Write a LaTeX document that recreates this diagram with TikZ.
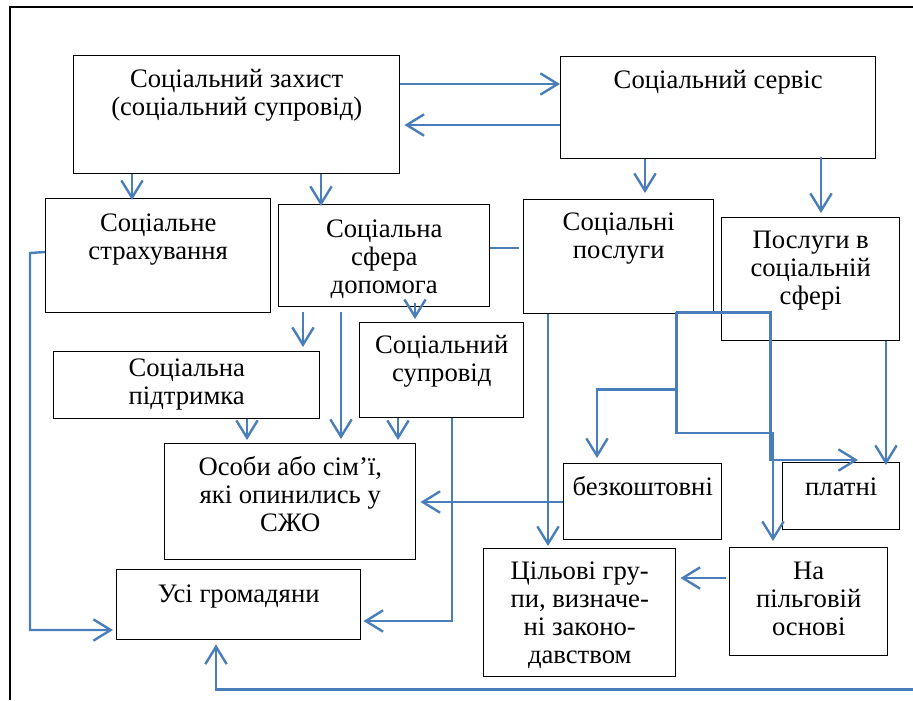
\documentclass[tikz,border=0pt]{standalone}
\usepackage{fontspec}
\setmainfont{Liberation Serif}
\usetikzlibrary{arrows.meta,calc}
\newlength\pxu
\setlength\pxu{0.75pt}
\newcommand{\bx}[4]{\parbox[c][#2\pxu][t]{#1\pxu}{\fontsize{20}{21}\selectfont\centering\rule{0pt}{#3\pxu}#4}}
\definecolor{lnblue}{RGB}{74,126,187}
\tikzset{
  box/.style={draw=black, line width=1.1pt, inner sep=0pt, anchor=north west, fill=white},
  conn/.style={draw=lnblue, line width=1.8pt},
  arr/.style={conn, -{Straight Barb[length=13pt,width=16pt]}}
}
\begin{document}
\begin{tikzpicture}[x=0.75pt,y=-0.75pt]
\useasboundingbox (0,0) rectangle (913,700);
\fill[white] (0,0) rectangle (913,700);
\draw[black, line width=1.4pt] (10,700) -- (10,7) -- (913,7);
% nodes
\node[box] (zah) at (73,55) {\bx{326}{118}{32}{Соціальний захист\\(соціальний супровід)}};
\node[box] (serv) at (560,56) {\bx{315}{102}{32}{Соціальний сервіс}};
\node[box] (strah) at (45,198) {\bx{225}{114}{33}{Соціальне\\страхування}};
\node[box] (sfera) at (278,204) {\bx{211}{102}{33}{Соціальна\\сфера\\допомога}};
\node[box] (posl) at (523,199) {\bx{190}{114}{31}{Соціальні\\послуги}};
\node[box] (psf) at (721,217) {\bx{178}{123}{31}{Послуги в\\соціальній\\сфері}};
\node[box] (pidt) at (53,351) {\bx{266}{67}{25}{Соціальна\\підтримка}};
\node[box] (supr) at (359,322) {\bx{164}{95}{31}{Соціальний\\супровід}};
\node[box] (osoby) at (164,443) {\bx{251}{116}{32}{Особи або сім’ї,\\які опинились у\\СЖО}};
\node[box] (usi) at (116,569) {\bx{244}{70}{33}{Усі громадяни}};
\node[box] (bez) at (563,463) {\bx{158}{76}{32}{безкоштовні}};
\node[box] (plat) at (782,462) {\bx{117}{67}{33}{платні}};
\node[box] (cil) at (483,548) {\bx{192}{128}{31}{Цільові гру-\\пи, визначе-\\ні законо-\\давством}};
\node[box] (pilg) at (729,547) {\bx{158}{108}{32}{На\\пільговій\\основі}};
% connectors
\draw[arr] ($(zah.north east)+(0,29)$) -- ($(serv.north west)+(0,28)$);
\draw[arr] ($(serv.north west)+(0,69)$) -- ($(zah.north east)+(4,70)$);
\draw[arr] ($(zah.south west)+(59,0)$) -- ($(strah.north west)+(87,2)$);
\draw[arr] ($(zah.south west)+(248,0)$) -- ($(sfera.north west)+(43,2)$);
\draw[arr] ($(serv.south west)+(85,0)$) -- ($(posl.north west)+(122,-6)$);
\draw[arr] ($(serv.south west)+(261,-2)$) -- ($(psf.north west)+(100,-4)$);
\draw[conn] ($(sfera.north east)+(0,44)$) -- ($(posl.north west)+(-4,49)$);
\draw[arr] ($(strah.north west)+(0,54)$) -- ++(-15,1) |- ($(usi.north west)+(-3,61)$);
\draw[arr] ($(sfera.south west)+(25,5)$) -- ($(pidt.north west)+(250,-4)$);
\draw[arr] ($(sfera.south west)+(63,5)$) -- ($(osoby.north west)+(177,-4)$);
\draw[arr] ($(sfera.south west)+(137,-4)$) -- ($(supr.north west)+(56,-3)$);
\draw[arr] ($(pidt.south west)+(194,0)$) -- ($(osoby.north west)+(83,-3)$);
\draw[arr] ($(supr.south west)+(39,0)$) -- ($(osoby.north west)+(234,-3)$);
\draw[arr] ($(supr.south west)+(93,0)$) |- ($(usi.north east)+(2,52)$);
\draw[arr] ($(bez.north west)+(0,39)$) -- ($(osoby.north east)+(4,59)$);
\draw[arr] ($(posl.south west)+(25,0)$) -- ($(cil.north west)+(65,-2)$);
\draw[arr] ($(posl.south east)+(-38,-2)$) -- ++(94,0) |- ($(plat.north west)+(76,-2)$);
\draw[arr] ($(posl.south east)+(-38,-2)$) |- ($(pilg.north west)+(44,-114)$) -- ($(pilg.north west)+(44,-6)$);
\draw[arr] ($(posl.south east)+(-37,75)$) -| ($(bez.north west)+(34,-5)$);
\draw[arr] ($(psf.south west)+(165,0)$) -- ($(plat.north west)+(104,3)$);
\draw[arr] ($(pilg.north west)+(-3,31)$) -- ($(cil.north east)+(4,30)$);
\draw[arr] ($(usi.south west)+(797,49)$) -| ($(usi.south west)+(100,4)$);
\end{tikzpicture}
\end{document}
